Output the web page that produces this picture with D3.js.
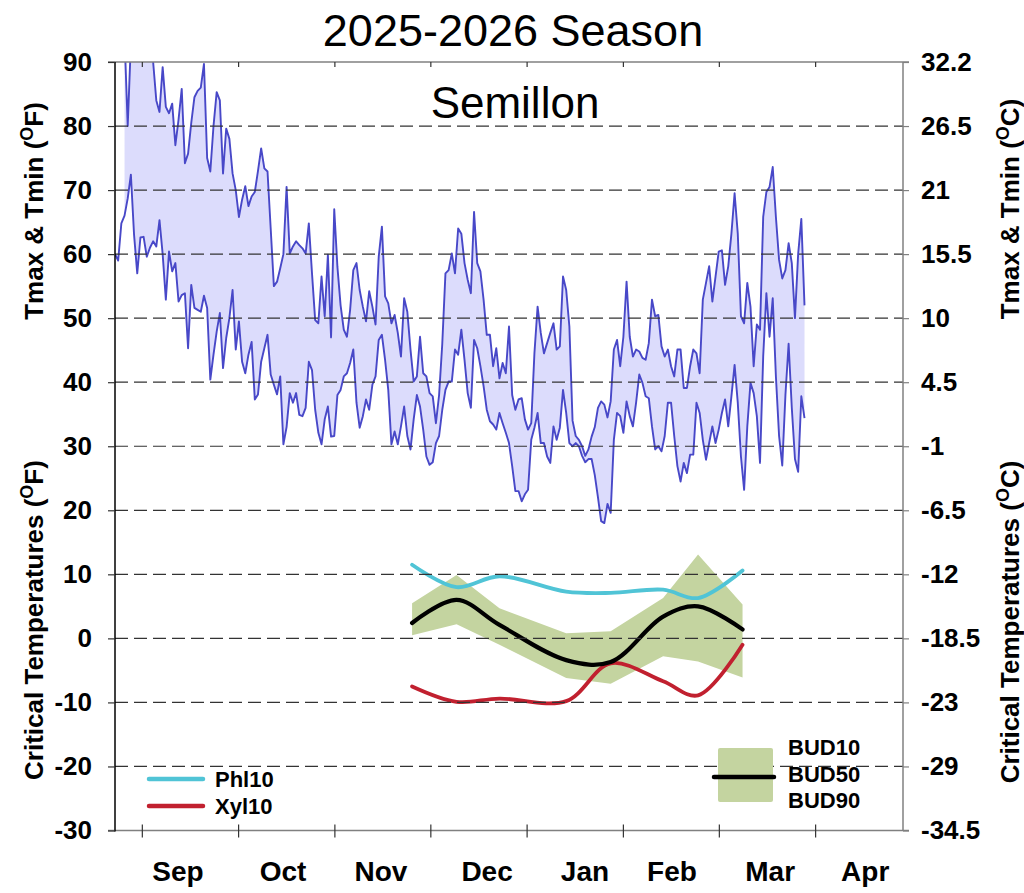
<!DOCTYPE html>
<html>
<head>
<meta charset="utf-8">
<script src="https://cdn.jsdelivr.net/npm/d3@7/dist/d3.min.js"></script>
<style>
  body { margin: 0; background: #fff; }
  text { font-family: "Liberation Sans", Arial, sans-serif; fill: #000; }
  .tickLabel { font-size: 26px; font-weight: bold; }
  .monthLabel { font-size: 28px; font-weight: bold; }
  .axisTitle { font-size: 26px; font-weight: bold; }
  .legendText { font-size: 22px; font-weight: bold; }
</style>
</head>
<body>
<div id="chart"></div>
<script>

// daily temperatures (F), day 0 = start of x axis
let tmaxStart = 3;
let tminF = [
  60, 59, 64.8, 66, 68.7, 72.4, 63, 57, 62.6, 62.7,
  59.6, 61, 62, 61.2, 65.3, 60, 52.9, 60.4, 57.3, 58.6,
  52.6, 53.6, 53.9, 45.3, 55.2, 51.6, 51.3, 51, 53.5, 51.6,
  40.4, 44.3, 47.9, 50.8, 42.2, 46.9, 50, 54.4, 45.1, 49.5,
  43.2, 41.4, 44.3, 46.3, 37.3, 38.1, 43.2, 45.3, 47.4, 41.2,
  39.6, 38.1, 40.9, 30.3, 33, 38.3, 36.8, 38.3, 34.9, 34.7,
  36, 43.2, 41.9, 35.7, 32.1, 30.3, 34.2, 36.2, 31.5, 31.6,
  38, 38.8, 40.9, 41.4, 43, 45.1, 36.8, 32.9, 34.7, 37.3,
  35.7, 39.6, 40.9, 46.6, 47.4, 43.5, 38.8, 30.3, 32.3, 30.3,
  33.1, 36.2, 31.6, 29.5, 34.2, 38, 36.2, 32.6, 28.4, 27.1,
  27.5, 30.5, 31.6, 35.7, 38.8, 40.1, 40.1, 45.1, 44.3, 48.2,
  43.5, 38.3, 36, 46.6, 45.3, 42.5, 39.4, 35.7, 33.9, 33.4,
  32.6, 35.2, 33.6, 32.1, 30.5, 26.9, 23, 23, 21.4, 22.5,
  23.2, 31, 32.9, 35.2, 30.5, 30.5, 28.4, 27.4, 33.1, 31,
  32.9, 38.8, 35.2, 30.5, 30, 30.5, 30, 28.5, 27.5, 28,
  28, 25.5, 22, 18.3, 18, 21, 19.6, 31, 35.2, 34.7,
  32.1, 37, 34.7, 33.1, 36.8, 41.2, 39.9, 37.8, 37.5, 33.1,
  29.5, 30, 29.2, 31.6, 36.8, 36.8, 31.6, 26.9, 24.5, 27.4,
  25.8, 28.7, 28.7, 36.8, 35.2, 31, 27.9, 30.5, 33.1, 30.5,
  32.6, 35.2, 37.3, 33.1, 37.8, 42.7, 36.8, 28.4, 23.2, 33.1,
  39.9, 38.3, 34.7, 27.4, 44, 53.9, 47.1, 53.1, 40.9, 31.6,
  27, 38, 46, 36, 28, 26, 37.8, 34.4
];
let tmaxF = [
  94, 80, 93, 96, 97, 95, 94,
  93, 92, 90, 84, 82.2, 89.2, 83, 82, 83.5, 77,
  81, 85.8, 74.2, 75.7, 80.5, 84.5, 85.5, 86, 89.7, 75,
  72.9, 80, 85.3, 84, 72.6, 79.6, 78, 72.6, 70, 65.8,
  68.5, 70.6, 67.5, 69, 69.7, 73, 76.5, 73.4, 72.9, 64,
  55, 55.7, 57.8, 60, 70.5, 60.1, 61.2, 62, 61.4, 60.9,
  60.1, 64.8, 57, 49.7, 49.2, 56.5, 50.3, 59.9, 47, 67,
  58, 52, 48.2, 47.1, 51.3, 57.5, 58.6, 54.4, 51.8, 49.5,
  54.2, 51.8, 49, 59.6, 64.3, 53.4, 52.3, 49.2, 50.5, 47.7,
  44, 53.1, 51, 45.1, 40.1, 40.9, 47.1, 41.4, 40.9, 38.3,
  37.8, 33.6, 38, 46, 57, 57.5, 60.1, 57, 64, 63.2,
  58.6, 56, 53.9, 66.6, 58.6, 57.3, 52.9, 47.4, 47.4, 42.5,
  45.3, 40.6, 43, 41.4, 48.7, 38, 35.7, 37.3, 37.5, 34.2,
  32.6, 33.6, 44.5, 51.8, 47.7, 44.5, 46.1, 47.7, 49.2, 45.1,
  45.6, 56.5, 54.4, 48.7, 34, 31.6, 31, 30, 28.5, 29.5,
  31.5, 33, 36, 37, 36.5, 34.5, 37, 45.1, 46.6, 42.5,
  47.1, 55.7, 47.1, 44, 45.1, 44.8, 43.8, 43.5, 46.1, 52.9,
  50.3, 50.5, 45.6, 44, 45.1, 42.5, 40.9, 45.1, 45.1, 39.1,
  39.1, 42.5, 45.1, 44.5, 41.4, 52.9, 55.5, 58.1, 52.6, 56.5,
  60.4, 60.6, 55.2, 58.1, 63.2, 69.5, 63.2, 50.3, 49.2, 55.5,
  51.8, 42.5, 49, 48.2, 65.8, 69.7, 70.5, 73.6, 65.8, 59.1,
  56.2, 57.5, 61.7, 58.6, 50, 60, 65.5, 52
];

// critical temperature samples (F)
let critDays = [93.5, 107.5, 121, 142, 156, 172.5, 183.5, 197.5];
let bud10 = [5.5, 9.9, 4.7, 0.8, 1.1, 6.3, 13.1, 5.3];
let bud50 = [2.4, 6.0, 2.1, -3.4, -3.7, 3.4, 5.0, 1.4];
let bud90 = [0.5, 2.2, -1.0, -6.2, -7.1, -2.8, -3.6, -6.1];
let phl10 = [11.5, 8.0, 9.7, 7.3, 7.1, 7.6, 6.3, 10.6];
let xyl10 = [-7.5, -9.9, -9.4, -9.8, -3.9, -6.7, -8.9, -1.0];

// axes
let fTicks = [90, 80, 70, 60, 50, 40, 30, 20, 10, 0, -10, -20, -30];
let cTickLabels = ["32.2", "26.5", "21", "15.5", "10", "4.5", "-1", "-6.5", "-12", "-18.5", "-23", "-29", "-34.5"];
let monthTicks = [8.6, 38.9, 69.2, 99.4, 129.7, 160, 190.2, 220.5];
let monthNames = ["Sep", "Oct", "Nov", "Dec", "Jan", "Feb", "Mar", "Apr"];
let monthLabelDays = [19.8, 52.9, 83.7, 117.1, 147.9, 175.3, 206.2, 236.1];

let width = 1024;
let height = 893;
let plotLeft = 115;
let plotRight = 903;
let plotTop = 62;
let plotBottom = 830.5;

let svg = d3
  .select("#chart")
  .append("svg")
  .attr("width", width)
  .attr("height", height);

let xScale = d3.scaleLinear().domain([0, 248]).range([plotLeft, plotRight]);
let yScale = d3.scaleLinear().domain([-30, 90]).range([plotBottom, plotTop]);

svg.append("clipPath")
  .attr("id", "plotClip")
  .append("rect")
  .attr("x", plotLeft)
  .attr("y", plotTop)
  .attr("width", plotRight - plotLeft)
  .attr("height", plotBottom - plotTop);

let tempRows = tminF.map(function(v, i) {
  return {
    day: i,
    tmin: v,
    tmax: i >= tmaxStart ? tmaxF[i - tmaxStart] : null
  };
});

let critRows = critDays.map(function(d, i) {
  return { day: d, b10: bud10[i], b50: bud50[i], b90: bud90[i], phl: phl10[i], xyl: xyl10[i] };
});

let plot = svg.append("g").attr("clip-path", "url(#plotClip)");

// Tmax/Tmin band
plot.append("path")
  .datum(tempRows.filter(function(d) { return d.tmax != null; }))
  .attr("fill", "#dcdcfc")
  .attr("d", d3.area()
    .x(function(d) { return xScale(d.day); })
    .y0(function(d) { return yScale(d.tmin); })
    .y1(function(d) { return yScale(d.tmax); }));

// bud hardiness band
plot.append("path")
  .datum(critRows)
  .attr("fill", "#c4d4a0")
  .attr("d", d3.area()
    .x(function(d) { return xScale(d.day); })
    .y0(function(d) { return yScale(d.b90); })
    .y1(function(d) { return yScale(d.b10); }));

// dashed grid
svg.append("g")
  .selectAll("line")
  .data(fTicks.filter(function(v) { return v < 90 && v > -30; }))
  .enter()
  .append("line")
  .attr("x1", plotLeft)
  .attr("x2", plotRight)
  .attr("y1", function(d) { return yScale(d); })
  .attr("y2", function(d) { return yScale(d); })
  .attr("stroke", "#333")
  .attr("stroke-width", 1.2)
  .attr("stroke-dasharray", "13,6");

// temperature lines
let tmaxLine = d3.line()
  .defined(function(d) { return d.tmax != null; })
  .x(function(d) { return xScale(d.day); })
  .y(function(d) { return yScale(d.tmax); });
let tminLine = d3.line()
  .x(function(d) { return xScale(d.day); })
  .y(function(d) { return yScale(d.tmin); });

plot.append("path").datum(tempRows)
  .attr("fill", "none").attr("stroke", "#4848c8").attr("stroke-width", 1.9)
  .attr("stroke-linejoin", "round")
  .attr("d", tmaxLine);
plot.append("path").datum(tempRows)
  .attr("fill", "none").attr("stroke", "#4848c8").attr("stroke-width", 1.9)
  .attr("stroke-linejoin", "round")
  .attr("d", tminLine);

// critical temperature curves
function critCurve(key, color, w) {
  plot.append("path")
    .datum(critRows)
    .attr("fill", "none")
    .attr("stroke", color)
    .attr("stroke-width", w)
    .attr("stroke-linecap", "round")
    .attr("d", d3.line()
      .curve(d3.curveCatmullRom)
      .x(function(d) { return xScale(d.day); })
      .y(function(d) { return yScale(d[key]); }));
}
critCurve("phl", "#50c4d6", 3.8);
critCurve("xyl", "#c1202f", 3.8);
critCurve("b50", "#000", 4.2);

// frame
svg.append("line").attr("x1", plotLeft - 7).attr("x2", plotRight + 6)
  .attr("y1", plotTop).attr("y2", plotTop).attr("stroke", "#808080").attr("stroke-width", 1.5);
svg.append("line").attr("x1", plotLeft - 7).attr("x2", plotRight + 6)
  .attr("y1", plotBottom).attr("y2", plotBottom).attr("stroke", "#808080").attr("stroke-width", 1.5);
svg.append("line").attr("x1", plotRight).attr("x2", plotRight)
  .attr("y1", plotTop).attr("y2", plotBottom).attr("stroke", "#808080").attr("stroke-width", 1.5);
svg.append("line").attr("x1", plotLeft).attr("x2", plotLeft)
  .attr("y1", plotTop).attr("y2", plotBottom + 1).attr("stroke", "#000").attr("stroke-width", 1.5);

// left axis
let leftAxis = d3.axisLeft(yScale)
  .tickValues(fTicks)
  .tickFormat(function(d) { return String(d); })
  .tickSize(7)
  .tickPadding(16);
let leftG = svg.append("g")
  .attr("transform", "translate(" + plotLeft + ",0)")
  .call(leftAxis);
leftG.select(".domain").remove();
leftG.selectAll(".tick line").attr("stroke", "#333").attr("stroke-width", 1.2);
leftG.selectAll(".tick text").attr("class", "tickLabel");
leftG.attr("font-size", null).attr("font-family", null);

// right axis with Celsius labels
let rightAxis = d3.axisRight(yScale)
  .tickValues(fTicks)
  .tickFormat(function(d, i) { return cTickLabels[i]; })
  .tickSize(6)
  .tickPadding(12);
let rightG = svg.append("g")
  .attr("transform", "translate(" + plotRight + ",0)")
  .call(rightAxis);
rightG.select(".domain").remove();
rightG.selectAll(".tick line").attr("stroke", "#808080").attr("stroke-width", 1.2);
rightG.selectAll(".tick text").attr("class", "tickLabel");
rightG.attr("font-size", null).attr("font-family", null);

// month ticks
svg.append("g")
  .selectAll("line")
  .data(monthTicks)
  .enter()
  .append("line")
  .attr("x1", function(d) { return xScale(d); })
  .attr("x2", function(d) { return xScale(d); })
  .attr("y1", plotBottom - 6)
  .attr("y2", plotBottom + 7)
  .attr("stroke", "#333")
  .attr("stroke-width", 1.2);
svg.append("g")
  .selectAll("line")
  .data(monthTicks)
  .enter()
  .append("line")
  .attr("x1", function(d) { return xScale(d); })
  .attr("x2", function(d) { return xScale(d); })
  .attr("y1", plotTop)
  .attr("y2", plotTop + 5)
  .attr("stroke", "#333")
  .attr("stroke-width", 1.2);

svg.append("g")
  .selectAll("text")
  .data(monthNames)
  .enter()
  .append("text")
  .attr("class", "monthLabel")
  .attr("text-anchor", "middle")
  .attr("x", function(d, i) { return xScale(monthLabelDays[i]); })
  .attr("y", 881)
  .text(function(d) { return d; });

// titles
svg.append("text")
  .attr("x", 513).attr("y", 46)
  .attr("text-anchor", "middle")
  .attr("font-size", "45px")
  .text("2025-2026 Season");
svg.append("text")
  .attr("x", 515).attr("y", 118)
  .attr("text-anchor", "middle")
  .attr("font-size", "44px")
  .text("Semillon");

function axisTitle(x, y, label, unit) {
  let t = svg.append("text")
    .attr("class", "axisTitle")
    .attr("text-anchor", "middle")
    .attr("transform", "translate(" + x + "," + y + ")rotate(-90)");
  t.append("tspan").text(label + " (");
  t.append("tspan").attr("dy", -10).attr("font-size", "18px").text("O");
  t.append("tspan").attr("dy", 10).text(unit + ")");
}
axisTitle(43, 211, "Tmax & Tmin", "F");
axisTitle(43, 620, "Critical Temperatures", "F");
axisTitle(1019, 209, "Tmax & Tmin", "C");
axisTitle(1019, 622, "Critical Temperatures", "C");

// legends
let legendLeft = [
  { name: "Phl10", color: "#50c4d6", y: 779 },
  { name: "Xyl10", color: "#c1202f", y: 806 }
];
let lg = svg.append("g");
lg.selectAll("line")
  .data(legendLeft)
  .enter()
  .append("line")
  .attr("x1", 149).attr("x2", 203)
  .attr("y1", function(d) { return d.y; })
  .attr("y2", function(d) { return d.y; })
  .attr("stroke", function(d) { return d.color; })
  .attr("stroke-width", 4.5)
  .attr("stroke-linecap", "round");
lg.selectAll("text")
  .data(legendLeft)
  .enter()
  .append("text")
  .attr("class", "legendText")
  .attr("x", 215)
  .attr("y", function(d) { return d.y + 8; })
  .text(function(d) { return d.name; });

svg.append("rect")
  .attr("x", 718).attr("y", 748)
  .attr("width", 55).attr("height", 54)
  .attr("rx", 2)
  .attr("fill", "#c4d4a0");
svg.append("line")
  .attr("x1", 714).attr("x2", 774)
  .attr("y1", 777).attr("y2", 777)
  .attr("stroke", "#000")
  .attr("stroke-width", 4.5)
  .attr("stroke-linecap", "round");
svg.append("g")
  .selectAll("text")
  .data(["BUD10", "BUD50", "BUD90"])
  .enter()
  .append("text")
  .attr("class", "legendText")
  .attr("x", 788)
  .attr("y", function(d, i) { return 755 + i * 26.7; })
  .text(function(d) { return d; });

</script>
</body>
</html>
